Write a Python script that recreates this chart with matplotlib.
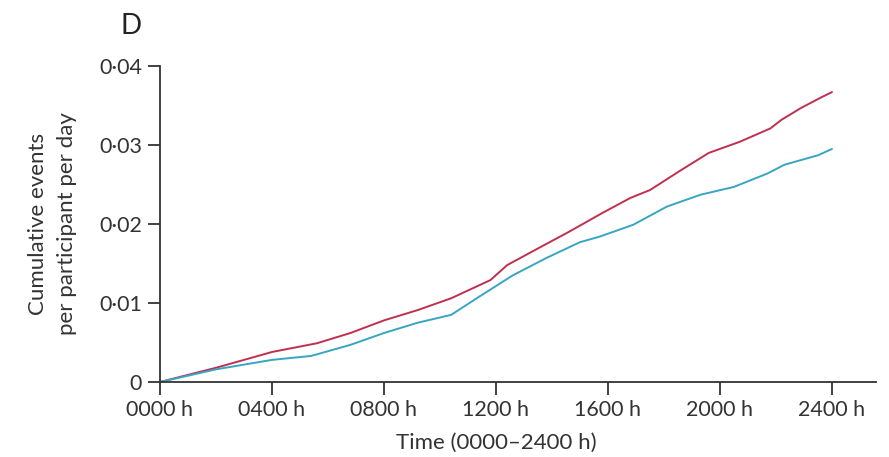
import matplotlib
matplotlib.use("Agg")
import matplotlib.pyplot as plt
from matplotlib.ticker import FixedLocator

plt.rcParams['font.family'] = ['Lato', 'DejaVu Sans']

# Hours since midnight at which the cumulative curves were read
red_hours = [0, 2.0, 4.0, 5.6, 6.8, 8.0, 9.2, 10.4, 11.8, 12.4, 13.6, 14.6, 15.8,
             16.8, 17.5, 18.6, 19.6, 20.7, 21.8, 22.2, 22.9, 23.6, 24.0]
red_values = [0, 0.0018, 0.0038, 0.0049, 0.0062, 0.0078, 0.0091, 0.0106, 0.0129,
              0.0148, 0.0171, 0.0190, 0.0214, 0.0233, 0.0243, 0.0268, 0.0290,
              0.0304, 0.0321, 0.0332, 0.0347, 0.0360, 0.0367]

cyan_hours = [0, 2.0, 4.0, 5.4, 6.8, 8.0, 9.2, 10.4, 11.4, 12.6, 13.8, 15.0, 15.7,
              16.9, 18.1, 19.3, 20.5, 21.7, 22.3, 23.5, 24.0]
cyan_values = [0, 0.0016, 0.0028, 0.0033, 0.0047, 0.0062, 0.0075, 0.0085, 0.0108,
               0.0135, 0.0157, 0.0177, 0.0184, 0.0199, 0.0222, 0.0237, 0.0247,
               0.0264, 0.0275, 0.0287, 0.0295]

x_ticks = [0, 4, 8, 12, 16, 20, 24]
x_tick_labels = ["0000 h", "0400 h", "0800 h", "1200 h", "1600 h", "2000 h", "2400 h"]
y_ticks = [0, 0.01, 0.02, 0.03, 0.04]
y_tick_labels = ["0", "0·01", "0·02", "0·03", "0·04"]

fig = plt.figure(figsize=(8.89, 4.57), dpi=100)
ax = fig.add_axes([160 / 889, 1 - 382 / 457, (876 - 160) / 889, (382 - 66) / 457])

ax.plot(red_hours, red_values, color="#bf2f50", lw=1.4, solid_capstyle="round")
ax.plot(cyan_hours, cyan_values, color="#38a5c2", lw=1.4, solid_capstyle="round")

x_max = (876 - 160) / 28.0
ax.set_xlim(0, x_max)
ax.set_ylim(0, 0.04)
ax.xaxis.set_major_locator(FixedLocator(x_ticks))
ax.set_xticklabels(x_tick_labels)
ax.yaxis.set_major_locator(FixedLocator(y_ticks))
ax.set_yticklabels(y_tick_labels)

for side in ("top", "right"):
    ax.spines[side].set_visible(False)
for side in ("left", "bottom"):
    ax.spines[side].set_color("#333333")
    ax.spines[side].set_linewidth(1.3)

ax.tick_params(axis="both", direction="out", length=9, width=1.3, color="#333333",
               labelsize=15.5, labelcolor="#333333")
ax.tick_params(axis="x", pad=4)
ax.tick_params(axis="y", pad=4)

ax.set_xlabel("Time (0000–2400 h)", fontsize=16, color="#333333", labelpad=9)
ax.xaxis.label.set_x(12 / x_max)
ax.set_ylabel("Cumulative events\nper participant per day", fontsize=16,
              color="#333333", labelpad=16, linespacing=1.55)

fig.text(131 / 889, 1 - 26 / 457, "D", fontsize=20, color="#222222",
         ha="center", va="center")

fig.savefig("out.png", dpi=100)
